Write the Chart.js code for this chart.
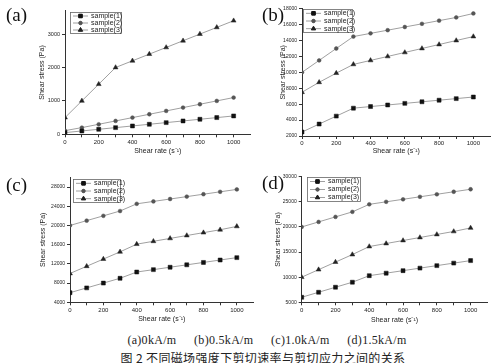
<!DOCTYPE html>
<html>
<head>
<meta charset="utf-8">
<script src="https://cdn.jsdelivr.net/npm/chart.js@4.4.1/dist/chart.umd.min.js"></script>
<style>
  html, body { margin: 0; padding: 0; background: #fff; }
  #wrap { position: relative; width: 500px; height: 363px; overflow: hidden; background: #fff; }
  canvas { position: absolute; }
  .plabel { position: absolute; font-family: "Liberation Serif", "DejaVu Serif", serif; font-size: 19px; color: #111; line-height: 1; }
  .cap { position: absolute; width: 500px; text-align: center; color: #222; white-space: pre; line-height: 1; }
</style>
</head>
<body>
<div id="wrap">
  <canvas id="ca"></canvas>
  <canvas id="cb"></canvas>
  <canvas id="cc"></canvas>
  <canvas id="cd"></canvas>
  <div class="plabel" style="left:6px;top:5px;">(a)</div>
  <div class="plabel" style="left:262px;top:5px;">(b)</div>
  <div class="plabel" style="left:6px;top:175px;">(c)</div>
  <div class="plabel" style="left:262px;top:173px;">(d)</div>
  <div class="cap" id="cap1" style="left:17px;top:334px;font-family:'Liberation Serif',serif;font-size:12px;letter-spacing:0.3px;word-spacing:5.5px;"></div>
  <div class="cap" id="cap2" style="left:13px;top:352px;font-family:'Noto Sans CJK SC',sans-serif;font-size:12px;letter-spacing:0.35px;"></div>
</div>
<script>
// ---------------- data ----------------
const shearRate = [0, 100, 200, 300, 400, 500, 600, 700, 800, 900, 1000];
const seriesNames = ['sample(1)', 'sample(2)', 'sample(3)'];

// (a) 0 kA/m
const a_s1 = [50, 100, 150, 200, 250, 300, 350, 400, 450, 500, 550];
const a_s2 = [110, 200, 300, 400, 500, 600, 700, 800, 900, 1000, 1100];
const a_s3 = [500, 1000, 1500, 2000, 2200, 2400, 2600, 2800, 3000, 3200, 3400];
// (b) 0.5 kA/m
const b_s1 = [2500, 3500, 4500, 5500, 5700, 5900, 6100, 6300, 6500, 6700, 6900];
const b_s2 = [10000, 11500, 13000, 14500, 14900, 15300, 15700, 16100, 16500, 16900, 17400];
const b_s3 = [7500, 8750, 9900, 11000, 11500, 12000, 12500, 13000, 13500, 14000, 14500];
// (c) 1.0 kA/m
const c_s1 = [6000, 7000, 8000, 9000, 10300, 10800, 11300, 11800, 12300, 12800, 13300];
const c_s2 = [20000, 21000, 22000, 23000, 24500, 25000, 25500, 26000, 26500, 27000, 27500];
const c_s3 = [10000, 11500, 13000, 14500, 16100, 16700, 17300, 17900, 18500, 19100, 19800];
// (d) 1.5 kA/m
const d_s1 = [6000, 7000, 8000, 9000, 10300, 10800, 11300, 11800, 12300, 12800, 13300];
const d_s2 = [20000, 21000, 22000, 23000, 24500, 25000, 25500, 26000, 26500, 27000, 27500];
const d_s3 = [10000, 11500, 13000, 14500, 16100, 16700, 17300, 17900, 18500, 19100, 19800];

// y tick labels of each panel
const a_yTicks = [0, 1000, 2000, 3000];
const b_yTicks = [2000, 4000, 6000, 8000, 10000, 12000, 14000, 16000, 18000];
const c_yTicks = [4000, 8000, 12000, 16000, 20000, 24000, 28000];
const d_yTicks = [5000, 10000, 15000, 20000, 25000, 30000];
const xTicks = [0, 100, 200, 300, 400, 500, 600, 700, 800, 900, 1000];

const xTitle = 'Shear rate (s\u207B\u00B9)';
const yTitle = 'Shear stress (Pa)';
const caption1 = '(a)0kA/m  (b)0.5kA/m  (c)1.0kA/m  (d)1.5kA/m';
const caption2 = '图 2 不同磁场强度下剪切速率与剪切应力之间的关系';

document.getElementById('cap1').textContent = caption1;
document.getElementById('cap2').textContent = caption2;

// ---------------- styles ----------------
const LINE = '#a0a0a0';
const AXIS = '#333';
const markers = [
  { style: 'rect', radius: 2.8, color: '#111' },
  { style: 'circle', radius: 1.9, color: '#555' },
  { style: 'triangle', radius: 2.8, color: '#222' }
];
const xTickFont = { family: '"Liberation Sans", Arial, sans-serif', size: 6 };
const titleFont = { family: '"Liberation Sans", Arial, sans-serif', size: 7 };

const boxLegend = {
  id: 'boxLegend',
  afterDraw(chart, args, opts) {
    const ctx = chart.ctx;
    const { x, y, w, h } = opts;
    ctx.save();
    ctx.strokeStyle = '#666';
    ctx.lineWidth = 0.8;
    ctx.strokeRect(x + 0.5, y + 0.5, w, h);
    const rowH = h / 3;
    chart.data.datasets.forEach((ds, i) => {
      const cy = y + rowH * (i + 0.5) + 0.5;
      ctx.strokeStyle = LINE;
      ctx.lineWidth = 1;
      ctx.beginPath();
      ctx.moveTo(x + 3, cy);
      ctx.lineTo(x + 18, cy);
      ctx.stroke();
      const m = markers[i];
      ctx.fillStyle = m.color;
      ctx.strokeStyle = m.color;
      Chart.helpers.drawPoint(ctx, { pointStyle: m.style, radius: m.radius * 0.9, borderWidth: 0.5 }, x + 10.5, cy);
      ctx.fill();
      ctx.fillStyle = '#222';
      ctx.font = '7px "Liberation Sans", Arial, sans-serif';
      ctx.textBaseline = 'middle';
      ctx.textAlign = 'left';
      ctx.fillText(ds.label, x + 21, cy);
    });
    ctx.restore();
  }
};

function makePanel(id, p) {
  const cv = document.getElementById(id);
  cv.style.left = p.L + 'px';
  cv.style.top = p.T + 'px';
  cv.style.width = p.W + 'px';
  cv.style.height = p.H + 'px';
  cv.width = p.W; cv.height = p.H;
  const datasets = p.series.map((vals, i) => ({
    label: seriesNames[i],
    data: shearRate.map((x, k) => ({ x: x, y: vals[k] })),
    borderColor: LINE,
    borderWidth: 1,
    pointStyle: markers[i].style,
    pointRadius: markers[i].radius,
    pointBackgroundColor: markers[i].color,
    pointBorderColor: markers[i].color,
    pointBorderWidth: 0.5,
    tension: 0,
    fill: false
  }));
  return new Chart(cv, {
    type: 'line',
    data: { datasets },
    plugins: [boxLegend],
    options: {
      responsive: false,
      animation: false,
      devicePixelRatio: 1,
      layout: { padding: { top: p.padTop, right: p.padRight, left: 0, bottom: 0 } },
      plugins: {
        legend: { display: false },
        tooltip: { enabled: false },
        boxLegend: p.legend
      },
      scales: {
        x: {
          type: 'linear', min: 0, max: 1100,
          border: { color: AXIS, width: 1 },
          grid: { drawOnChartArea: false, drawTicks: true, tickLength: 3, color: AXIS },
          ticks: {
            autoSkip: false, maxRotation: 0, padding: 1, color: '#222', font: xTickFont,
            callback: v => (v % 200 === 0) ? String(v) : ''
          },
          afterBuildTicks: s => { s.ticks = xTicks.map(v => ({ value: v })); },
          title: { display: true, text: xTitle, color: '#222', font: titleFont, padding: { top: 0, bottom: 0 } },
          afterFit: s => { s.height = p.xH; s.paddingLeft = 0; s.paddingRight = 0; s.paddingTop = 0; s.paddingBottom = 0; }
        },
        y: {
          type: 'linear', min: p.yMin, max: p.yMax,
          border: { color: AXIS, width: 1 },
          grid: { drawOnChartArea: false, drawTicks: true, tickLength: 3, color: AXIS },
          ticks: {
            autoSkip: false, padding: 2, color: '#222',
            font: { family: '"Liberation Sans", Arial, sans-serif', size: p.yFont },
            callback: v => String(v)
          },
          afterBuildTicks: s => { s.ticks = p.yTicks.map(v => ({ value: v })); },
          title: { display: true, text: yTitle, color: '#222', font: titleFont, padding: { top: p.yTitlePad, bottom: 0 } },
          afterFit: s => { s.width = p.yW; s.paddingLeft = 0; s.paddingRight = 0; s.paddingTop = 0; s.paddingBottom = 0; }
        }
      }
    }
  });
}

makePanel('ca', {
  L: 0, T: 0, W: 255, H: 155, padTop: 10.7, padRight: 2, yW: 65, xH: 20.7, yTitlePad: 37.5,
  yMin: 0, yMax: 3700, yTicks: a_yTicks, yFont: 5.5,
  series: [a_s1, a_s2, a_s3],
  legend: { x: 70, y: 12, w: 51, h: 21 }
});
makePanel('cb', {
  L: 250, T: 0, W: 245, H: 155, padTop: 8.7, padRight: 3.4, yW: 52, xH: 19, yTitlePad: 28.5,
  yMin: 2000, yMax: 18000, yTicks: b_yTicks, yFont: 5,
  series: [b_s1, b_s2, b_s3],
  legend: { x: 53, y: 9, w: 49, h: 23 }
});
makePanel('cc', {
  L: 0, T: 165, W: 258, H: 158, padTop: 12.4, padRight: 2, yW: 70, xH: 20.7, yTitlePad: 38.5,
  yMin: 4000, yMax: 30000, yTicks: c_yTicks, yFont: 5,
  series: [c_s1, c_s2, c_s3],
  legend: { x: 73, y: 14, w: 47, h: 23 }
});
makePanel('cd', {
  L: 250, T: 165, W: 242, H: 159, padTop: 11.7, padRight: 2.2, yW: 51.7, xH: 21.7, yTitlePad: 24,
  yMin: 5000, yMax: 30000, yTicks: d_yTicks, yFont: 5,
  series: [d_s1, d_s2, d_s3],
  legend: { x: 57, y: 12, w: 53, h: 24 }
});
</script>
</body>
</html>
